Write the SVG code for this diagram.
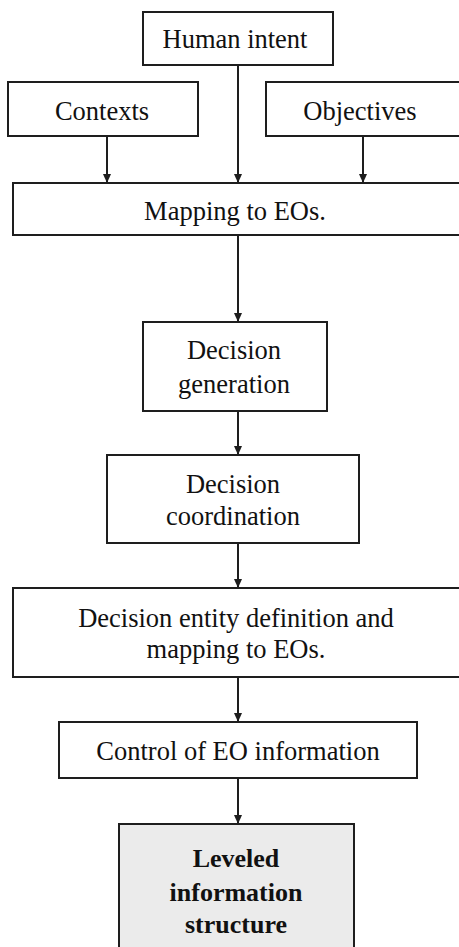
<svg xmlns="http://www.w3.org/2000/svg" width="459" height="947" viewBox="0 0 459 947">
  <style>
    .box { fill: #ffffff; stroke: #1e1e1e; stroke-width: 2; }
    .final { fill: #ebebeb; }
    .wire { stroke: #1e1e1e; stroke-width: 2; fill: none; marker-end: url(#arrow); }
  </style>
  <defs>
    <marker id="arrow" markerWidth="9" markerHeight="10" refX="8" refY="4" orient="auto" markerUnits="userSpaceOnUse" viewBox="0 0 9 8">
      <path d="M0,0 L9,4 L0,8 z" fill="#1e1e1e"/>
    </marker>
  </defs>
  <rect width="459" height="947" fill="#ffffff"/>

  <g id="connectors">
    <line class="wire" x1="238" y1="65" x2="238" y2="182"/>
    <line class="wire" x1="107" y1="136" x2="107" y2="182"/>
    <line class="wire" x1="363" y1="136" x2="363" y2="182"/>
    <line class="wire" x1="238" y1="235" x2="238" y2="321"/>
    <line class="wire" x1="238" y1="411" x2="238" y2="454"/>
    <line class="wire" x1="238" y1="543" x2="238" y2="587"/>
    <line class="wire" x1="238" y1="677" x2="238" y2="721"/>
    <line class="wire" x1="238" y1="778" x2="238" y2="823"/>
  </g>

  <g font-family="Liberation Serif, Times New Roman, serif" font-size="26.5" fill="#111" text-anchor="middle">
    <g id="human-intent">
      <rect class="box" x="143" y="12" width="190" height="53"/>
      <text x="235" y="48">Human intent</text>
    </g>
    <g id="contexts">
      <rect class="box" x="8" y="82" width="190" height="54"/>
      <text x="102" y="120">Contexts</text>
    </g>
    <g id="objectives">
      <rect class="box" x="266" y="82" width="210" height="54"/>
      <text x="360" y="120">Objectives</text>
    </g>
    <g id="mapping">
      <rect class="box" x="13" y="183" width="460" height="52"/>
      <text x="235" y="220">Mapping to EOs.</text>
    </g>
    <g id="decision-generation">
      <rect class="box" x="143" y="322" width="184" height="89"/>
      <text x="234" y="359">Decision</text>
      <text x="234" y="393">generation</text>
    </g>
    <g id="decision-coordination">
      <rect class="box" x="107" y="455" width="252" height="88"/>
      <text x="233" y="493">Decision</text>
      <text x="233" y="525">coordination</text>
    </g>
    <g id="decision-entity">
      <rect class="box" x="13" y="588" width="460" height="89"/>
      <text x="236" y="627">Decision entity definition and</text>
      <text x="236" y="658">mapping to EOs.</text>
    </g>
    <g id="control">
      <rect class="box" x="59" y="722" width="358" height="56"/>
      <text x="238" y="760">Control of EO information</text>
    </g>
    <g id="leveled" font-weight="bold" font-size="26">
      <rect class="box final" x="119" y="824" width="235" height="140"/>
      <text x="236" y="867">Leveled</text>
      <text x="236" y="901">information</text>
      <text x="236" y="933">structure</text>
    </g>
  </g>
</svg>
